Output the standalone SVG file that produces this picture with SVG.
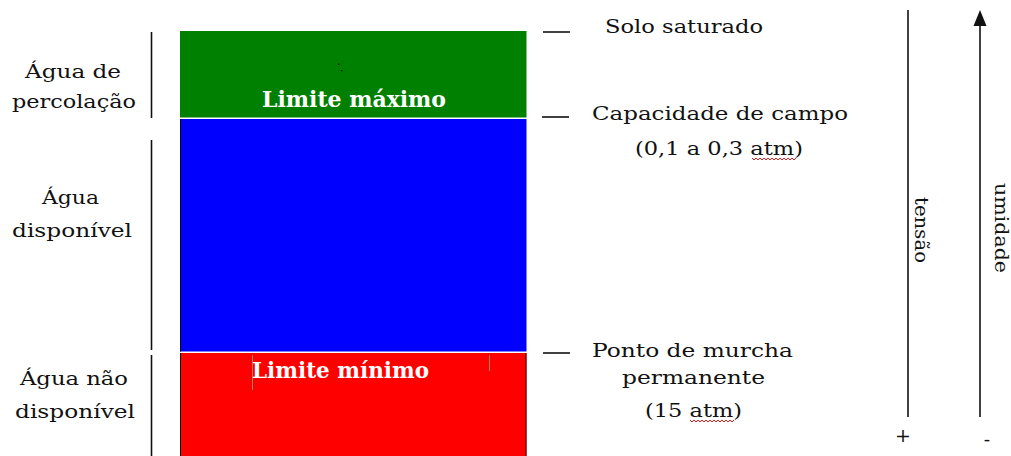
<svg xmlns="http://www.w3.org/2000/svg" width="1011" height="456" viewBox="0 0 1011 456">
<style>
.lbl{font-family:"DejaVu Serif","Liberation Serif",serif;font-size:19px;fill:#111}
.mid{text-anchor:middle}
.bar{font-family:"DejaVu Serif","Liberation Serif",serif;font-size:22px;font-weight:bold;fill:#fff;text-anchor:middle}
.ln{stroke:#111;stroke-width:1.6;fill:none}
.wavy{stroke:#e02020;stroke-width:1;fill:none}
</style>
<rect width="1011" height="456" fill="#fff"/>
<g id="layer-percolacao">
<rect x="180" y="31" width="346.5" height="86.5" fill="#008000"/>
<rect x="338" y="63.5" width="1.3" height="1.3" fill="#000"/>
<rect x="341" y="70" width="1.3" height="1.3" fill="#000"/>
<text class="bar" x="354" y="107" textLength="184" lengthAdjust="spacingAndGlyphs">Limite máximo</text>
</g>
<g id="layer-disponivel">
<rect x="180" y="119" width="346.5" height="232.5" fill="#0000ff"/>
<line x1="180.5" y1="119" x2="180.5" y2="351.5" stroke="#000" stroke-width="1"/>
</g>
<g id="layer-nao-disponivel">
<rect x="180" y="353" width="346.5" height="103" fill="#ff0000"/>
<line x1="180.5" y1="353" x2="180.5" y2="456" stroke="#000" stroke-width="1"/>
<line x1="526" y1="353" x2="526" y2="456" stroke="#300" stroke-width="1"/>
<line x1="252.5" y1="355" x2="252.5" y2="390" stroke="#b08060" stroke-width="1"/>
<line x1="489.5" y1="355" x2="489.5" y2="371" stroke="#b08060" stroke-width="1"/>
<text class="bar" x="340.5" y="378" textLength="177" lengthAdjust="spacingAndGlyphs">Limite mínimo</text>
</g>
<g id="label-percolacao">
<text class="lbl mid" x="73" y="78" textLength="96" lengthAdjust="spacingAndGlyphs">Água de</text>
<text class="lbl mid" x="74" y="108" textLength="124" lengthAdjust="spacingAndGlyphs">percolação</text>
</g>
<g id="label-disponivel">
<text class="lbl mid" x="70.5" y="204" textLength="57" lengthAdjust="spacingAndGlyphs">Água</text>
<text class="lbl mid" x="72" y="237" textLength="120" lengthAdjust="spacingAndGlyphs">disponível</text>
</g>
<g id="label-nao-disponivel">
<text class="lbl mid" x="74" y="385" textLength="108" lengthAdjust="spacingAndGlyphs">Água não</text>
<text class="lbl mid" x="75" y="418" textLength="120" lengthAdjust="spacingAndGlyphs">disponível</text>
</g>
<g id="label-solo-saturado">
<text class="lbl" x="605" y="33" textLength="158" lengthAdjust="spacingAndGlyphs">Solo saturado</text>
</g>
<g id="label-capacidade">
<text class="lbl" x="592" y="120" textLength="256" lengthAdjust="spacingAndGlyphs">Capacidade de campo</text>
<text class="lbl" x="635" y="155" textLength="168" lengthAdjust="spacingAndGlyphs">(0,1 a 0,3 atm)</text>
<polyline class="wavy" points="752,158 754,160 756,158 758,160 760,158 762,160 764,158 766,160 768,158 770,160 772,158 774,160 776,158 778,160 780,158 782,160 784,158 786,160 788,158 790,160 792,158 794,160 796,158"/>
</g>
<g id="label-ponto-murcha">
<text class="lbl" x="592" y="357" textLength="201" lengthAdjust="spacingAndGlyphs">Ponto de murcha</text>
<text class="lbl" x="622" y="384" textLength="143" lengthAdjust="spacingAndGlyphs">permanente</text>
<text class="lbl" x="645" y="417" textLength="97" lengthAdjust="spacingAndGlyphs">(15 atm)</text>
<polyline class="wavy" points="690,420 692,422 694,420 696,422 698,420 700,422 702,420 704,422 706,420 708,422 710,420 712,422 714,420 716,422 718,420 720,422 722,420 724,422 726,420 728,422 730,420 732,422 734,420"/>
</g>
<g id="label-tensao">
<text class="lbl mid" transform="translate(915 230) rotate(90)" x="0" y="0" textLength="66" lengthAdjust="spacingAndGlyphs">tensão</text>
<text class="lbl mid" x="903" y="442" font-size="20">+</text>
</g>
<g id="label-umidade">
<text class="lbl mid" transform="translate(995 228) rotate(90)" x="0" y="0" textLength="90" lengthAdjust="spacingAndGlyphs">umidade</text>
<text class="lbl mid" x="987" y="446" font-size="20">-</text>
</g>
<g id="connectors">
<line class="ln" x1="151.5" y1="32" x2="151.5" y2="118"/>
<line class="ln" x1="151.5" y1="140" x2="151.5" y2="350"/>
<line class="ln" x1="151.5" y1="355" x2="151.5" y2="456"/>
<line class="ln" x1="543" y1="32" x2="570" y2="32"/>
<line class="ln" x1="542" y1="117" x2="569" y2="117"/>
<line class="ln" x1="543" y1="353" x2="570" y2="353"/>
<line class="ln" x1="908" y1="10" x2="908" y2="417"/>
<line class="ln" x1="980" y1="24" x2="980" y2="417"/>
<polygon points="980,10 973.5,26 986.5,26" fill="#111"/>
</g>
</svg>
